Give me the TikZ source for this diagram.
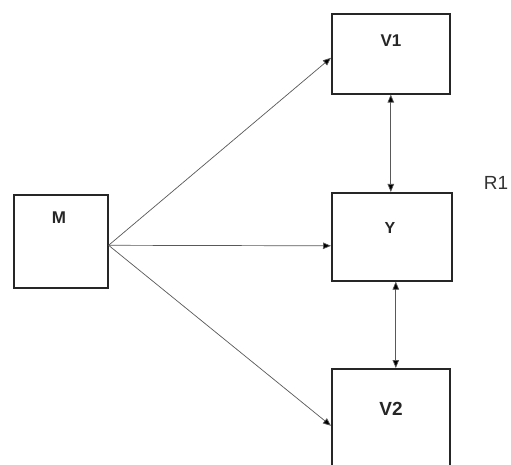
\documentclass[tikz,border=0pt]{standalone}
\usepackage{fontspec}
\setmainfont{Liberation Sans}
\usetikzlibrary{arrows.meta}
\begin{document}
\begin{tikzpicture}[x=1pt,y=-1pt,
  box/.style={draw=black!85,line width=1.6pt,rectangle,inner sep=0pt,anchor=north west},
  lab/.style={font=\bfseries\fontsize{17}{20}\selectfont,text=black!85,inner sep=0pt},
  conn/.style={draw=black!65,line width=0.7pt,-{Triangle[length=8pt,width=6.5pt,fill=black]}},
  bconn/.style={draw=black!65,line width=0.7pt,{Triangle[length=8pt,width=6.5pt,fill=black]}-{Triangle[length=8pt,width=6.5pt,fill=black]}}]
\useasboundingbox (0,0) rectangle (511,465);
\clip (0,0) rectangle (511,465);
\fill[white] (0,0) rectangle (511,465);
\node[box,minimum width=94pt,minimum height=93pt] (M) at (13,194) {};
\node[box,minimum width=118pt,minimum height=80pt] (V1) at (331,13) {};
\node[box,minimum width=120pt,minimum height=88pt] (Y) at (331,192) {};
\node[box,minimum width=118pt,minimum height=120pt] (V2) at (331,368) {};
\node[lab] (tM) at (59,218) {M};
\node[lab] (tV1) at (391,41) {V1};
\node[lab,font=\bfseries\fontsize{16}{19}\selectfont] (tY) at (390,228) {Y};
\node[lab,font=\bfseries\fontsize{19}{22}\selectfont] (tV2) at (391,409) {V2};
\node[font=\fontsize{19}{22}\selectfont,text=black!80,inner sep=0pt] (R1) at (496,183) {R1};
\draw[conn] ([yshift=-4pt]M.east) -- ([yshift=-4pt]V1.west);
\draw[conn] ([yshift=-4pt]M.east) -- ([yshift=-9pt]Y.west);
\draw[conn] ([yshift=-4pt]M.east) -- ([yshift=3pt]V2.west);
\draw[bconn] (V1.south) -- ([xshift=-1pt]Y.north);
\draw[bconn] ([xshift=4pt]Y.south) -- ([xshift=5pt]V2.north);
\end{tikzpicture}
\end{document}
